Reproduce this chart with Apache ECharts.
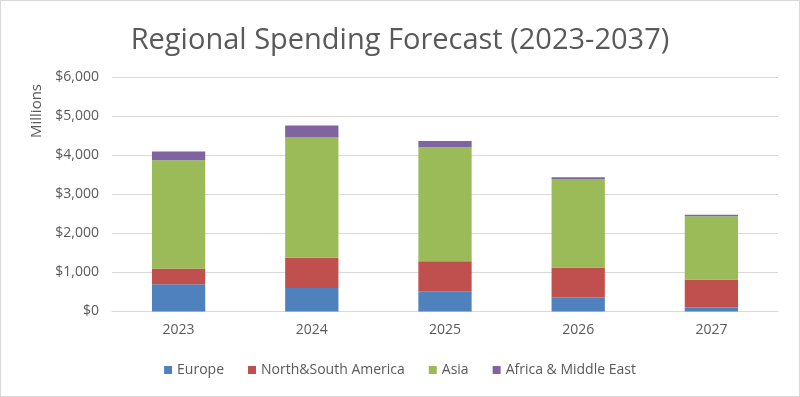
<!DOCTYPE html>
<html>
<head>
<meta charset="utf-8">
<script src="https://cdn.jsdelivr.net/npm/echarts@6/dist/echarts.min.js"></script>
<style>
  html, body { margin: 0; padding: 0; background: #fff; }
  #chart { width: 800px; height: 397px; box-sizing: border-box; border: 1px solid #d9d9d9; }
</style>
</head>
<body>
<div id="chart"></div>
<script>
const categories = ['2023', '2024', '2025', '2026', '2027'];
const europe = [700, 600, 520, 360, 100];
const americas = [400, 780, 770, 770, 720];
const asia = [2780, 3080, 2920, 2270, 1620];
const africaME = [220, 310, 160, 40, 40];
const seriesNames = ['Europe', 'North&South America', 'Asia', 'Africa & Middle East'];
const seriesColors = ['#4f81bd', '#c0504d', '#9bbb59', '#8064a2'];
const seriesData = [europe, americas, asia, africaME];

const FONT = 'Open Sans';
const TXT = '#595959';

const chart = echarts.init(document.getElementById('chart'));
chart.setOption({
  animation: false,
  title: {
    text: 'Regional Spending Forecast (2023-2037)',
    left: 'center',
    top: 20,
    textStyle: { fontFamily: FONT, fontSize: 29, fontWeight: 'normal', color: TXT }
  },
  legend: {
    bottom: 14,
    left: 'center',
    itemWidth: 8,
    itemHeight: 8,
    itemGap: 24,
    icon: 'rect',
    textStyle: { fontFamily: FONT, fontSize: 14, color: TXT }
  },
  grid: { left: 111, top: 76.5, width: 666, height: 234 },
  xAxis: {
    type: 'category',
    data: categories,
    axisLine: { lineStyle: { color: '#d9d9d9' } },
    axisTick: { show: false },
    axisLabel: { fontFamily: FONT, fontSize: 14, color: TXT, margin: 12 }
  },
  yAxis: {
    type: 'value',
    min: 0,
    max: 6000,
    interval: 1000,
    axisLine: { show: false },
    axisTick: { show: false },
    splitLine: { lineStyle: { color: '#d9d9d9', width: 1 } },
    axisLabel: {
      fontFamily: FONT, fontSize: 14, color: TXT, margin: 13,
      formatter: v => '$' + v.toLocaleString('en-US')
    }
  },
  graphic: [{
    type: 'text',
    left: 28,
    top: 83,
    rotation: Math.PI / 2,
    style: { text: 'Millions', fontFamily: FONT, fontSize: 15, fill: TXT }
  }],
  series: seriesNames.map((name, i) => ({
    name,
    type: 'bar',
    stack: 'total',
    barWidth: '40%',
    data: seriesData[i],
    itemStyle: { color: seriesColors[i] }
  }))
});
</script>
</body>
</html>
